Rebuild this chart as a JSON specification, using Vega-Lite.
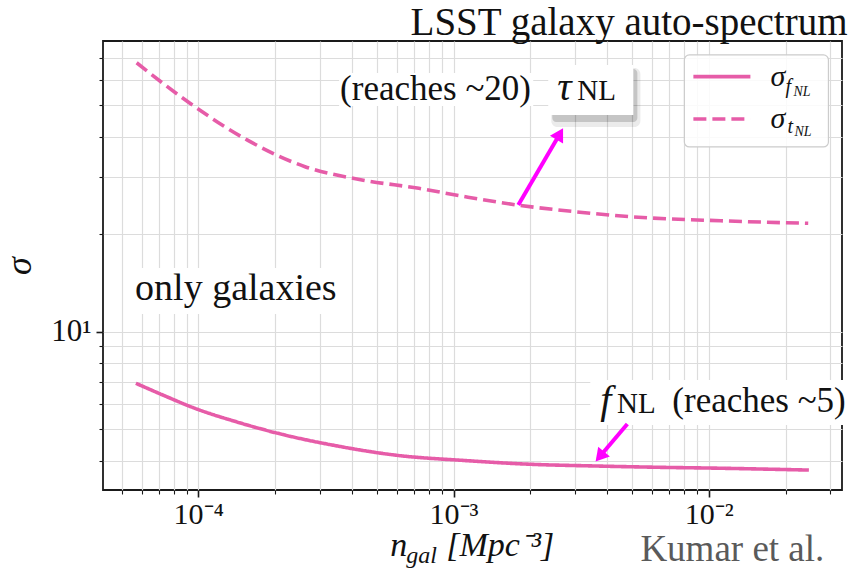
{
  "$schema": "https://vega.github.io/schema/vega-lite/v6.json",
  "width": 739,
  "height": 449,
  "autosize": {"type": "none"},
  "padding": {"left": 103, "top": 41, "right": 9, "bottom": 81},
  "background": "white",
  "config": {"view": {"stroke": "#1a1a1a", "strokeWidth": 1.8}},
  "datasets": {
    "curves": [
      {"n": 5.69e-5, "sigma": 6.93, "series": "fNL"},
      {"n": 7.41e-5, "sigma": 6.33, "series": "fNL"},
      {"n": 9.70e-5, "sigma": 5.80, "series": "fNL"},
      {"n": 1.41e-4, "sigma": 5.27, "series": "fNL"},
      {"n": 2.02e-4, "sigma": 4.87, "series": "fNL"},
      {"n": 3.55e-4, "sigma": 4.43, "series": "fNL"},
      {"n": 5.90e-4, "sigma": 4.16, "series": "fNL"},
      {"n": 1.12e-3, "sigma": 4.00, "series": "fNL"},
      {"n": 1.96e-3, "sigma": 3.90, "series": "fNL"},
      {"n": 3.58e-3, "sigma": 3.85, "series": "fNL"},
      {"n": 6.3e-3, "sigma": 3.815, "series": "fNL"},
      {"n": 1.09e-2, "sigma": 3.79, "series": "fNL"},
      {"n": 2.47e-2, "sigma": 3.74, "series": "fNL"},
      {"n": 5.73e-5, "sigma": 67.6, "series": "tNL"},
      {"n": 7.29e-5, "sigma": 58.3, "series": "tNL"},
      {"n": 9.27e-5, "sigma": 50.7, "series": "tNL"},
      {"n": 1.558e-4, "sigma": 39.0, "series": "tNL"},
      {"n": 2.618e-4, "sigma": 32.3, "series": "tNL"},
      {"n": 4.375e-4, "sigma": 29.4, "series": "tNL"},
      {"n": 7.31e-4, "sigma": 27.7, "series": "tNL"},
      {"n": 1.139e-3, "sigma": 26.0, "series": "tNL"},
      {"n": 1.774e-3, "sigma": 24.6, "series": "tNL"},
      {"n": 3.0e-3, "sigma": 23.45, "series": "tNL"},
      {"n": 5.07e-3, "sigma": 22.6, "series": "tNL"},
      {"n": 1.115e-2, "sigma": 21.99, "series": "tNL"},
      {"n": 2.455e-2, "sigma": 21.6, "series": "tNL"}
    ],
    "boxes": [
      {"n": 3.562e-4, "n2": 2.053e-3, "sigma": 62.87, "sigma2": 49.74},
      {"n": 5.40e-5, "n2": 3.761e-4, "sigma": 15.73, "sigma2": 11.34},
      {"n": 3.436e-3, "n2": 3.594e-2, "sigma": 7.094, "sigma2": 5.152}
    ],
    "shadowOuter": [{"n": 2.416e-3, "n2": 5.40e-3, "sigma": 65.15, "sigma2": 42.83}],
    "shadowInner": [{"n": 2.438e-3, "n2": 5.254e-3, "sigma": 64.70, "sigma2": 44.38}],
    "tauBox": [{"n": 2.351e-3, "n2": 5.067e-3, "sigma": 66.55, "sigma2": 46.65}],
    "legendBox": [{"n": 8.03e-3, "n2": 2.946e-2, "sigma": 71.45, "sigma2": 37.17}],
    "legendLines": [
      {"n": 8.71e-3, "n2": 1.457e-2, "sigma": 61.24, "series": "fNL"},
      {"n": 8.71e-3, "n2": 1.457e-2, "sigma": 45.34, "series": "tNL"}
    ],
    "arrows": [
      {"n": 1.794e-3, "n2": 2.609e-3, "sigma": 24.60, "sigma2": 40.76},
      {"n": 4.80e-3, "n2": 3.744e-3, "sigma": 5.189, "sigma2": 4.117}
    ],
    "headT": [{"n": 2.609e-3, "sigma": 40.76}],
    "headF": [{"n": 3.744e-3, "sigma": 4.117}],
    "heading": [{"n": 3.499e-2, "sigma": 82.36, "label": "LSST galaxy auto-spectrum"}],
    "txt35": [
      {"n": 3.594e-4, "sigma": 51.89, "label": "(reaches ~20)"},
      {"n": 7.204e-3, "sigma": 5.653, "label": "(reaches ~5)"}
    ],
    "txt38": [{"n": 5.65e-5, "sigma": 12.52, "label": "only galaxies"}],
    "greek": [
      {"n": 2.551e-3, "sigma": 51.89, "label": "τ"},
      {"n": 3.761e-3, "sigma": 5.613, "label": "f"}
    ],
    "nl": [
      {"n": 3.055e-3, "sigma": 51.89, "label": "NL"},
      {"n": 4.37e-3, "sigma": 5.613, "label": "NL"}
    ],
    "legSigma": [
      {"n": 1.746e-2, "sigma": 57.33, "label": "σ"},
      {"n": 1.746e-2, "sigma": 42.53, "label": "σ"}
    ],
    "legSub": [
      {"n": 2.0e-2, "sigma": 54.55, "label": "f"},
      {"n": 2.035e-2, "sigma": 41.05, "label": "t"}
    ],
    "legSub2": [
      {"n": 2.148e-2, "sigma": 53.40, "label": "NL"},
      {"n": 2.168e-2, "sigma": 40.18, "label": "NL"}
    ],
    "xtitle": [
      {"n": 5.646e-4, "sigma": 2.031, "label": "n"},
      {"n": 9.363e-4, "sigma": 2.031, "label": "[Mpc⁻³]"}
    ],
    "xtitleSub": [{"n": 6.525e-4, "sigma": 1.932, "label": "gal"}],
    "credit": [{"n": 5.40e-3, "sigma": 1.955, "label": "Kumar et al."}]
  },
  "layer": [
    {
      "data": {"name": "curves"},
      "mark": {"type": "line", "color": "#e65ca8", "strokeWidth": 3.6, "strokeCap": "butt", "interpolate": "monotone"},
      "encoding": {
        "x": {"field": "n", "type": "quantitative",
          "scale": {"type": "log", "domain": [4.23e-5, 3.33e-2], "nice": false},
          "axis": {
            "values": [5e-5, 6e-5, 7e-5, 8e-5, 9e-5, 0.0001, 0.0002, 0.0003, 0.0004, 0.0005, 0.0006, 0.0007, 0.0008, 0.0009, 0.001, 0.002, 0.003, 0.004, 0.005, 0.006, 0.007, 0.008, 0.009, 0.01, 0.02, 0.03],
            "labelExpr": "datum.value == 0.0001 ? '10⁻⁴' : datum.value == 0.001 ? '10⁻³' : datum.value == 0.01 ? '10⁻²' : ''",
            "title": null, "domain": false, "grid": true, "gridColor": "#dcdcdc", "gridWidth": 1.2,
            "tickColor": "#1a1a1a",
            "tickSize": {"condition": {"test": "datum.value == 0.0001 || datum.value == 0.001 || datum.value == 0.01", "value": 7}, "value": 4},
            "tickWidth": {"condition": {"test": "datum.value == 0.0001 || datum.value == 0.001 || datum.value == 0.01", "value": 1.6}, "value": 1.1},
            "labelFont": "Liberation Serif", "labelFontSize": 30, "labelColor": "#111111", "labelPadding": 2,
            "labelFlush": false, "labelOverlap": false, "labelBound": false
          }
        },
        "y": {"field": "sigma", "type": "quantitative",
          "scale": {"type": "log", "domain": [3.246, 78.9], "nice": false},
          "axis": {
            "values": [4, 5, 6, 7, 8, 9, 10, 20, 30, 40, 50, 60, 70],
            "labelExpr": "datum.value == 10 ? '10¹' : ''",
            "title": "σ", "titleFont": "Liberation Serif", "titleFontStyle": "italic", "titleFontWeight": "normal", "titleFontSize": 36, "titleColor": "#111111", "titlePadding": 12,
            "domain": false, "grid": true, "gridColor": "#dcdcdc", "gridWidth": 1.2,
            "tickColor": "#1a1a1a",
            "tickSize": {"condition": {"test": "datum.value == 10", "value": 7}, "value": 4},
            "tickWidth": {"condition": {"test": "datum.value == 10", "value": 1.6}, "value": 1.1},
            "labelFont": "Liberation Serif", "labelFontSize": 31, "labelColor": "#111111", "labelPadding": 5,
            "labelFlush": false, "labelOverlap": false, "labelBound": false
          }
        },
        "strokeDash": {"field": "series", "type": "nominal", "scale": {"domain": ["fNL", "tNL"], "range": [[1, 0], [13, 6]]}, "legend": null}
      }
    },
    {
      "data": {"name": "boxes"},
      "mark": {"type": "rect", "fill": "white", "strokeWidth": 0},
      "encoding": {
        "x": {"field": "n", "type": "quantitative", "scale": {"type": "log", "domain": [4.23e-5, 3.33e-2], "nice": false}},
        "x2": {"field": "n2"},
        "y": {"field": "sigma", "type": "quantitative", "scale": {"type": "log", "domain": [3.246, 78.9], "nice": false}},
        "y2": {"field": "sigma2"}
      }
    },
    {
      "data": {"name": "shadowOuter"},
      "mark": {"type": "rect", "fill": "#000000", "opacity": 0.08, "cornerRadius": 6},
      "encoding": {
        "x": {"field": "n", "type": "quantitative", "scale": {"type": "log", "domain": [4.23e-5, 3.33e-2], "nice": false}},
        "x2": {"field": "n2"},
        "y": {"field": "sigma", "type": "quantitative", "scale": {"type": "log", "domain": [3.246, 78.9], "nice": false}},
        "y2": {"field": "sigma2"}
      }
    },
    {
      "data": {"name": "shadowInner"},
      "mark": {"type": "rect", "fill": "#000000", "opacity": 0.16, "cornerRadius": 4},
      "encoding": {
        "x": {"field": "n", "type": "quantitative", "scale": {"type": "log", "domain": [4.23e-5, 3.33e-2], "nice": false}},
        "x2": {"field": "n2"},
        "y": {"field": "sigma", "type": "quantitative", "scale": {"type": "log", "domain": [3.246, 78.9], "nice": false}},
        "y2": {"field": "sigma2"}
      }
    },
    {
      "data": {"name": "tauBox"},
      "mark": {"type": "rect", "fill": "white", "strokeWidth": 0},
      "encoding": {
        "x": {"field": "n", "type": "quantitative", "scale": {"type": "log", "domain": [4.23e-5, 3.33e-2], "nice": false}},
        "x2": {"field": "n2"},
        "y": {"field": "sigma", "type": "quantitative", "scale": {"type": "log", "domain": [3.246, 78.9], "nice": false}},
        "y2": {"field": "sigma2"}
      }
    },
    {
      "data": {"name": "legendBox"},
      "mark": {"type": "rect", "fill": "white", "fillOpacity": 0.85, "stroke": "#cccccc", "strokeWidth": 1.2, "cornerRadius": 5},
      "encoding": {
        "x": {"field": "n", "type": "quantitative", "scale": {"type": "log", "domain": [4.23e-5, 3.33e-2], "nice": false}},
        "x2": {"field": "n2"},
        "y": {"field": "sigma", "type": "quantitative", "scale": {"type": "log", "domain": [3.246, 78.9], "nice": false}},
        "y2": {"field": "sigma2"}
      }
    },
    {
      "data": {"name": "legendLines"},
      "mark": {"type": "rule", "color": "#e65ca8", "strokeWidth": 3.6, "strokeCap": "butt"},
      "encoding": {
        "x": {"field": "n", "type": "quantitative", "scale": {"type": "log", "domain": [4.23e-5, 3.33e-2], "nice": false}},
        "x2": {"field": "n2"},
        "y": {"field": "sigma", "type": "quantitative", "scale": {"type": "log", "domain": [3.246, 78.9], "nice": false}},
        "strokeDash": {"field": "series", "type": "nominal", "scale": {"domain": ["fNL", "tNL"], "range": [[1, 0], [13, 6]]}, "legend": null}
      }
    },
    {
      "data": {"name": "arrows"},
      "mark": {"type": "rule", "color": "#ff00ff", "strokeWidth": 4},
      "encoding": {
        "x": {"field": "n", "type": "quantitative", "scale": {"type": "log", "domain": [4.23e-5, 3.33e-2], "nice": false}},
        "x2": {"field": "n2"},
        "y": {"field": "sigma", "type": "quantitative", "scale": {"type": "log", "domain": [3.246, 78.9], "nice": false}},
        "y2": {"field": "sigma2"}
      }
    },
    {
      "data": {"name": "headT"},
      "mark": {"type": "point", "shape": "triangle-up", "filled": true, "color": "#ff00ff", "opacity": 1, "size": 230, "angle": 30},
      "encoding": {
        "x": {"field": "n", "type": "quantitative", "scale": {"type": "log", "domain": [4.23e-5, 3.33e-2], "nice": false}},
        "y": {"field": "sigma", "type": "quantitative", "scale": {"type": "log", "domain": [3.246, 78.9], "nice": false}}
      }
    },
    {
      "data": {"name": "headF"},
      "mark": {"type": "point", "shape": "triangle-up", "filled": true, "color": "#ff00ff", "opacity": 1, "size": 230, "angle": 220},
      "encoding": {
        "x": {"field": "n", "type": "quantitative", "scale": {"type": "log", "domain": [4.23e-5, 3.33e-2], "nice": false}},
        "y": {"field": "sigma", "type": "quantitative", "scale": {"type": "log", "domain": [3.246, 78.9], "nice": false}}
      }
    },
    {
      "data": {"name": "heading"},
      "mark": {"type": "text", "font": "Liberation Serif", "fontSize": 39, "align": "right", "baseline": "alphabetic", "color": "#111111"},
      "encoding": {
        "x": {"field": "n", "type": "quantitative", "scale": {"type": "log", "domain": [4.23e-5, 3.33e-2], "nice": false}},
        "y": {"field": "sigma", "type": "quantitative", "scale": {"type": "log", "domain": [3.246, 78.9], "nice": false}},
        "text": {"field": "label"}
      }
    },
    {
      "data": {"name": "txt35"},
      "mark": {"type": "text", "font": "Liberation Serif", "fontSize": 35, "align": "left", "baseline": "alphabetic", "color": "#111111"},
      "encoding": {
        "x": {"field": "n", "type": "quantitative", "scale": {"type": "log", "domain": [4.23e-5, 3.33e-2], "nice": false}},
        "y": {"field": "sigma", "type": "quantitative", "scale": {"type": "log", "domain": [3.246, 78.9], "nice": false}},
        "text": {"field": "label"}
      }
    },
    {
      "data": {"name": "txt38"},
      "mark": {"type": "text", "font": "Liberation Serif", "fontSize": 38, "align": "left", "baseline": "alphabetic", "color": "#111111"},
      "encoding": {
        "x": {"field": "n", "type": "quantitative", "scale": {"type": "log", "domain": [4.23e-5, 3.33e-2], "nice": false}},
        "y": {"field": "sigma", "type": "quantitative", "scale": {"type": "log", "domain": [3.246, 78.9], "nice": false}},
        "text": {"field": "label"}
      }
    },
    {
      "data": {"name": "greek"},
      "mark": {"type": "text", "font": "Liberation Serif", "fontSize": 40, "fontStyle": "italic", "align": "left", "baseline": "alphabetic", "color": "#111111"},
      "encoding": {
        "x": {"field": "n", "type": "quantitative", "scale": {"type": "log", "domain": [4.23e-5, 3.33e-2], "nice": false}},
        "y": {"field": "sigma", "type": "quantitative", "scale": {"type": "log", "domain": [3.246, 78.9], "nice": false}},
        "text": {"field": "label"}
      }
    },
    {
      "data": {"name": "nl"},
      "mark": {"type": "text", "font": "Liberation Serif", "fontSize": 29, "align": "left", "baseline": "alphabetic", "color": "#111111"},
      "encoding": {
        "x": {"field": "n", "type": "quantitative", "scale": {"type": "log", "domain": [4.23e-5, 3.33e-2], "nice": false}},
        "y": {"field": "sigma", "type": "quantitative", "scale": {"type": "log", "domain": [3.246, 78.9], "nice": false}},
        "text": {"field": "label"}
      }
    },
    {
      "data": {"name": "legSigma"},
      "mark": {"type": "text", "font": "Liberation Serif", "fontSize": 30, "fontStyle": "italic", "align": "left", "baseline": "alphabetic", "color": "#111111"},
      "encoding": {
        "x": {"field": "n", "type": "quantitative", "scale": {"type": "log", "domain": [4.23e-5, 3.33e-2], "nice": false}},
        "y": {"field": "sigma", "type": "quantitative", "scale": {"type": "log", "domain": [3.246, 78.9], "nice": false}},
        "text": {"field": "label"}
      }
    },
    {
      "data": {"name": "legSub"},
      "mark": {"type": "text", "font": "Liberation Serif", "fontSize": 20, "fontStyle": "italic", "align": "left", "baseline": "alphabetic", "color": "#111111"},
      "encoding": {
        "x": {"field": "n", "type": "quantitative", "scale": {"type": "log", "domain": [4.23e-5, 3.33e-2], "nice": false}},
        "y": {"field": "sigma", "type": "quantitative", "scale": {"type": "log", "domain": [3.246, 78.9], "nice": false}},
        "text": {"field": "label"}
      }
    },
    {
      "data": {"name": "legSub2"},
      "mark": {"type": "text", "font": "Liberation Serif", "fontSize": 14, "fontStyle": "italic", "align": "left", "baseline": "alphabetic", "color": "#111111"},
      "encoding": {
        "x": {"field": "n", "type": "quantitative", "scale": {"type": "log", "domain": [4.23e-5, 3.33e-2], "nice": false}},
        "y": {"field": "sigma", "type": "quantitative", "scale": {"type": "log", "domain": [3.246, 78.9], "nice": false}},
        "text": {"field": "label"}
      }
    },
    {
      "data": {"name": "xtitle"},
      "mark": {"type": "text", "font": "Liberation Serif", "fontSize": 34, "fontStyle": "italic", "align": "left", "baseline": "alphabetic", "color": "#111111"},
      "encoding": {
        "x": {"field": "n", "type": "quantitative", "scale": {"type": "log", "domain": [4.23e-5, 3.33e-2], "nice": false}},
        "y": {"field": "sigma", "type": "quantitative", "scale": {"type": "log", "domain": [3.246, 78.9], "nice": false}},
        "text": {"field": "label"}
      }
    },
    {
      "data": {"name": "xtitleSub"},
      "mark": {"type": "text", "font": "Liberation Serif", "fontSize": 24, "fontStyle": "italic", "align": "left", "baseline": "alphabetic", "color": "#111111"},
      "encoding": {
        "x": {"field": "n", "type": "quantitative", "scale": {"type": "log", "domain": [4.23e-5, 3.33e-2], "nice": false}},
        "y": {"field": "sigma", "type": "quantitative", "scale": {"type": "log", "domain": [3.246, 78.9], "nice": false}},
        "text": {"field": "label"}
      }
    },
    {
      "data": {"name": "credit"},
      "mark": {"type": "text", "font": "Liberation Serif", "fontSize": 37, "align": "left", "baseline": "alphabetic", "color": "#5a5a5a"},
      "encoding": {
        "x": {"field": "n", "type": "quantitative", "scale": {"type": "log", "domain": [4.23e-5, 3.33e-2], "nice": false}},
        "y": {"field": "sigma", "type": "quantitative", "scale": {"type": "log", "domain": [3.246, 78.9], "nice": false}},
        "text": {"field": "label"}
      }
    }
  ]
}
